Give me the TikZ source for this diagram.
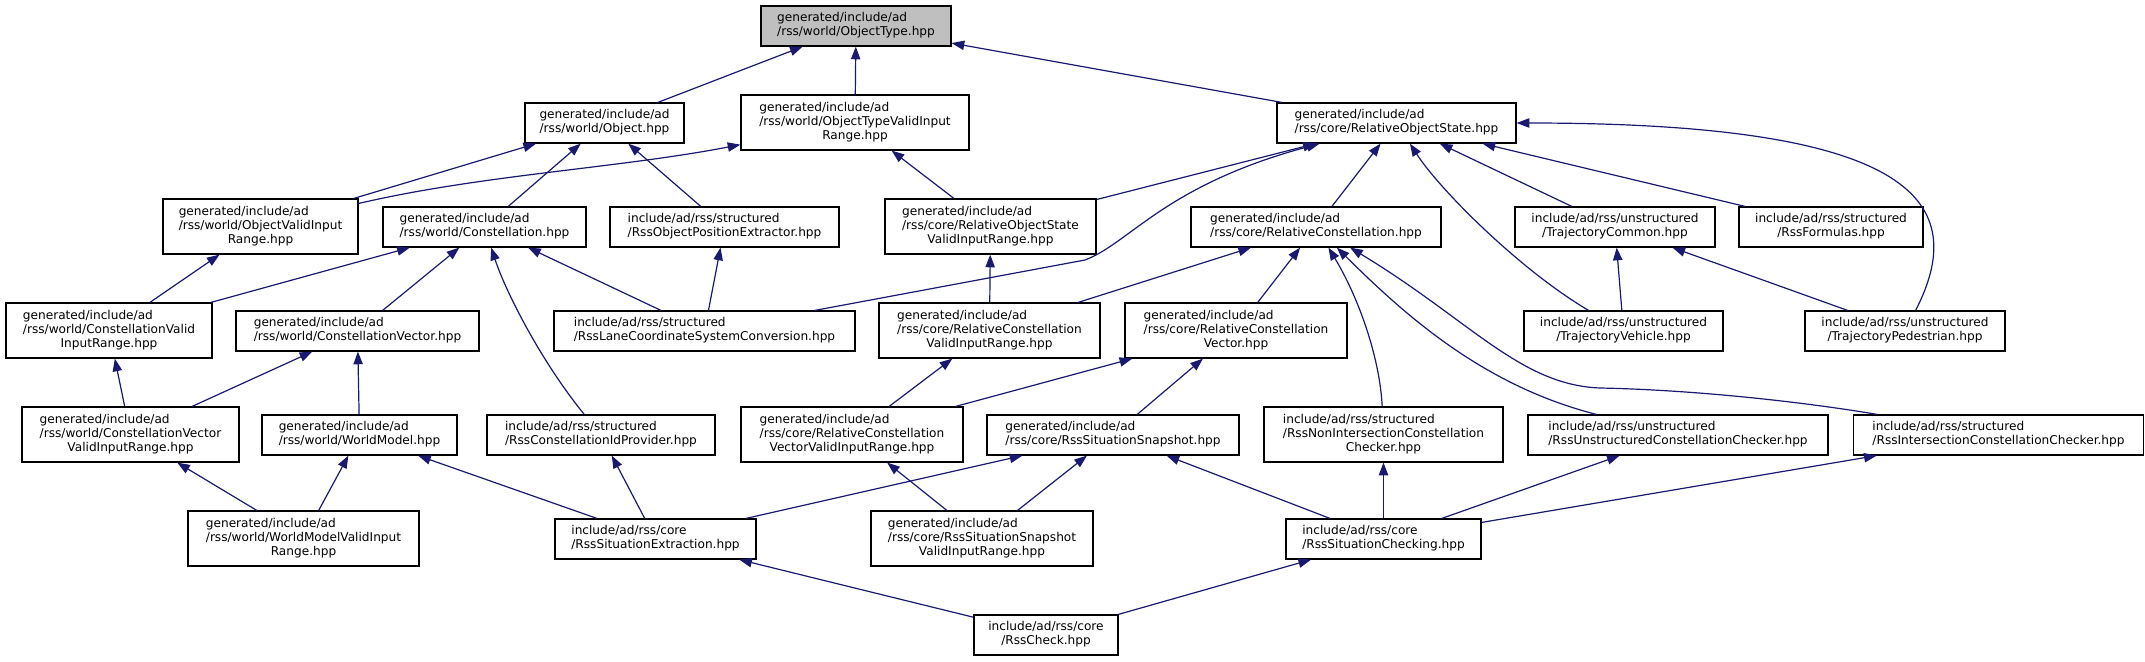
\documentclass[tikz,border=0pt]{standalone}
\usepackage{fontspec}
\setmainfont{DejaVu Sans}
\usepackage{tikz}
\usepackage{xcolor}
\usetikzlibrary{arrows.meta}
\definecolor{edgeblue}{RGB}{25,25,112}
\definecolor{rootgray}{RGB}{191,191,191}
\newcommand{\twoln}[2]{\begin{tabular}{@{}l@{}}#1\\\multicolumn{1}{@{}c@{}}{#2}\end{tabular}}
\newcommand{\threeln}[3]{\begin{tabular}{@{}l@{}}#1\\#2\\\multicolumn{1}{@{}c@{}}{#3}\end{tabular}}

\begin{document}
\begin{tikzpicture}[x=0.75pt,y=-0.75pt,
  hpp/.style 2 args={draw=black,line width=0.9pt,fill=white,inner sep=0pt,
              minimum width=#1*0.75pt,minimum height=#2*0.75pt,
              font=\fontsize{9.1}{10.7}\selectfont},
  root/.style={fill=rootgray},
  dep/.style={-{Triangle[length=9.5pt,width=7pt]},edgeblue,line width=0.9pt}]
\useasboundingbox (0,0) rectangle (2145,661);

% ------------- level 0 -------------
\node[hpp={190}{40},root] (otype) at (856,26)
  {\twoln{generated/include/ad}{/rss/world/ObjectType.hpp}};

% ------------- level 1 -------------
\node[hpp={159}{40}] (obj) at (604.5,123)
  {\twoln{generated/include/ad}{/rss/world/Object.hpp}};
\node[hpp={228}{55}] (otvir) at (855,122.5)
  {\threeln{generated/include/ad}{/rss/world/ObjectTypeValidInput}{Range.hpp}};
\node[hpp={239}{40}] (ros) at (1396.5,123)
  {\twoln{generated/include/ad}{/rss/core/RelativeObjectState.hpp}};

% ------------- level 2 -------------
\node[hpp={195}{55}] (ovir) at (260.5,226.5)
  {\threeln{generated/include/ad}{/rss/world/ObjectValidInput}{Range.hpp}};
\node[hpp={203}{40}] (cons) at (484.5,227)
  {\twoln{generated/include/ad}{/rss/world/Constellation.hpp}};
\node[hpp={229}{40}] (rope) at (724.5,227)
  {\twoln{include/ad/rss/structured}{/RssObjectPositionExtractor.hpp}};
\node[hpp={211}{55}] (rosvir) at (990.5,226.5)
  {\threeln{generated/include/ad}{/rss/core/RelativeObjectState}{ValidInputRange.hpp}};
\node[hpp={250}{40}] (rcons) at (1316,227)
  {\twoln{generated/include/ad}{/rss/core/RelativeConstellation.hpp}};
\node[hpp={200}{40}] (tcom) at (1615,227)
  {\twoln{include/ad/rss/unstructured}{/TrajectoryCommon.hpp}};
\node[hpp={184}{40}] (rform) at (1831,227)
  {\twoln{include/ad/rss/structured}{/RssFormulas.hpp}};

% ------------- level 3 -------------
\node[hpp={206}{55}] (cvir) at (109,330.5)
  {\threeln{generated/include/ad}{/rss/world/ConstellationValid}{InputRange.hpp}};
\node[hpp={243}{40}] (cvec) at (357.5,331)
  {\twoln{generated/include/ad}{/rss/world/ConstellationVector.hpp}};
\node[hpp={301}{40}] (rlcsc) at (704.5,331)
  {\twoln{include/ad/rss/structured}{/RssLaneCoordinateSystemConversion.hpp}};
\node[hpp={221}{55}] (rcvir) at (989.5,330.5)
  {\threeln{generated/include/ad}{/rss/core/RelativeConstellation}{ValidInputRange.hpp}};
\node[hpp={222}{55}] (rcvec) at (1236,330.5)
  {\threeln{generated/include/ad}{/rss/core/RelativeConstellation}{Vector.hpp}};
\node[hpp={199}{40}] (tveh) at (1623.5,331)
  {\twoln{include/ad/rss/unstructured}{/TrajectoryVehicle.hpp}};
\node[hpp={200}{40}] (tped) at (1905,331)
  {\twoln{include/ad/rss/unstructured}{/TrajectoryPedestrian.hpp}};

% ------------- level 4 -------------
\node[hpp={217}{55}] (cvecvir) at (130.5,434.5)
  {\threeln{generated/include/ad}{/rss/world/ConstellationVector}{ValidInputRange.hpp}};
\node[hpp={195}{40}] (wm) at (359.5,435)
  {\twoln{generated/include/ad}{/rss/world/WorldModel.hpp}};
\node[hpp={228}{40}] (rcidp) at (601,435)
  {\twoln{include/ad/rss/structured}{/RssConstellationIdProvider.hpp}};
\node[hpp={222}{55}] (rcvecvir) at (852,434.5)
  {\threeln{generated/include/ad}{/rss/core/RelativeConstellation}{VectorValidInputRange.hpp}};
\node[hpp={252}{40}] (rsnap) at (1113,435)
  {\twoln{generated/include/ad}{/rss/core/RssSituationSnapshot.hpp}};
\node[hpp={239}{55}] (rnicc) at (1383.5,434.5)
  {\threeln{include/ad/rss/structured}{/RssNonIntersectionConstellation}{Checker.hpp}};
\node[hpp={300}{40}] (rucc) at (1678,435)
  {\twoln{include/ad/rss/unstructured}{/RssUnstructuredConstellationChecker.hpp}};
\node[hpp={290}{40}] (ricc) at (1998.5,435)
  {\twoln{include/ad/rss/structured}{/RssIntersectionConstellationChecker.hpp}};

% ------------- level 5 -------------
\node[hpp={231}{55}] (wmvir) at (303.5,538.5)
  {\threeln{generated/include/ad}{/rss/world/WorldModelValidInput}{Range.hpp}};
\node[hpp={201}{40}] (rsext) at (655.5,539)
  {\twoln{include/ad/rss/core}{/RssSituationExtraction.hpp}};
\node[hpp={222}{55}] (rsnapvir) at (982,538.5)
  {\threeln{generated/include/ad}{/rss/core/RssSituationSnapshot}{ValidInputRange.hpp}};
\node[hpp={195}{40}] (rscheck) at (1383.5,539)
  {\twoln{include/ad/rss/core}{/RssSituationChecking.hpp}};

% ------------- level 6 -------------
\node[hpp={144}{40}] (rcheck) at (1046,635)
  {\twoln{include/ad/rss/core}{/RssCheck.hpp}};

% ------------- includes -------------
\draw[dep] (obj) -- (otype);
\draw[dep] (otvir) -- (otype);
\draw[dep] (ros) -- (otype);

\draw[dep] (ovir) -- (obj);
\draw[dep] (cons) -- (obj);
\draw[dep] (rope) -- (obj);
\draw[dep] (ovir) .. controls (480,175) and (620,168) .. (otvir);
\draw[dep] (rosvir) -- (otvir);
\draw[dep] (rosvir) -- (ros);
\draw[dep] (rlcsc) -- (1085,260) .. controls (1130,243) and (1165,185) .. (ros);
\draw[dep] (rcons) -- (ros);
\draw[dep] (tveh) .. controls (1520,270) and (1440,190) .. (ros);
\draw[dep] (tcom) -- (ros);
\draw[dep] (rform) -- (ros);
\draw[dep] (tped) .. controls (1975,195) and (1900,123) .. (ros);

\draw[dep] (cvir) -- (ovir);
\draw[dep] (cvir) -- (cons);
\draw[dep] (cvec) -- (cons);
\draw[dep] (rcidp) .. controls (540,360) and (505,290) .. (cons);
\draw[dep] (rlcsc) -- (cons);
\draw[dep] (rlcsc) -- (rope);
\draw[dep] (rcvir) -- (rosvir);
\draw[dep] (rcvir) -- (rcons);
\draw[dep] (rcvec) -- (rcons);
\draw[dep] (rnicc) .. controls (1380,360) and (1360,300) .. (rcons);
\draw[dep] (rucc) .. controls (1480,385) and (1400,310) .. (rcons);
\draw[dep] (ricc) .. controls (1810,403) and (1700,390) .. (1600,388)
  .. controls (1520,385) and (1470,320) .. (rcons);
\draw[dep] (tveh) -- (tcom);
\draw[dep] (tped) -- (tcom);

\draw[dep] (cvecvir) -- (cvir);
\draw[dep] (cvecvir) -- (cvec);
\draw[dep] (wm) -- (cvec);
\draw[dep] (rcvecvir) -- (rcvir);
\draw[dep] (rcvecvir) -- (rcvec);
\draw[dep] (rsnap) -- (rcvec);

\draw[dep] (wmvir) -- (cvecvir);
\draw[dep] (wmvir) -- (wm);
\draw[dep] (rsext) -- (wm);
\draw[dep] (rsext) -- (rcidp);
\draw[dep] (rsext) -- (rsnap);
\draw[dep] (rsnapvir) -- (rcvecvir);
\draw[dep] (rsnapvir) -- (rsnap);
\draw[dep] (rscheck) -- (rsnap);
\draw[dep] (rscheck) -- (rnicc);
\draw[dep] (rscheck) -- (rucc);
\draw[dep] (rscheck) -- (ricc);

\draw[dep] (rcheck) -- (rsext);
\draw[dep] (rcheck) -- (rscheck);

\end{tikzpicture}
\end{document}
